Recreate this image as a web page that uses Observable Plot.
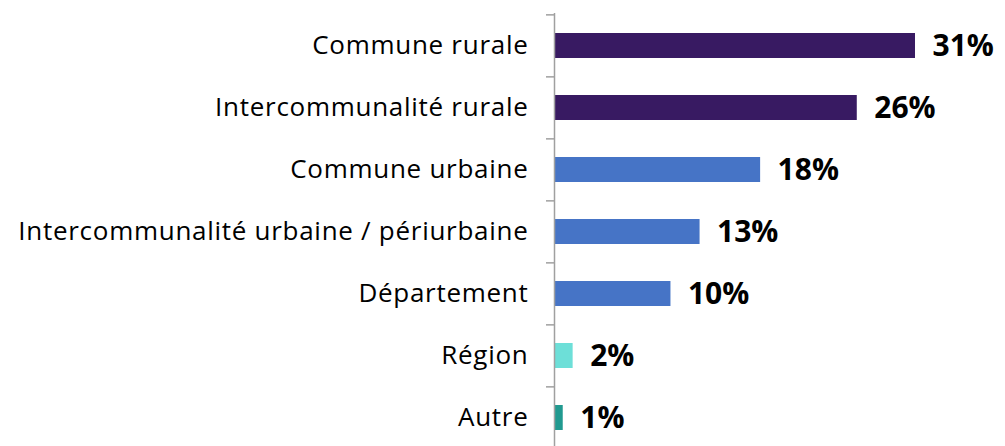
<!DOCTYPE html>
<html>
<head>
<meta charset="utf-8">
<script src="https://cdn.jsdelivr.net/npm/d3@7"></script>
<script src="https://cdn.jsdelivr.net/npm/@observablehq/plot@0.6"></script>
<style>
  html, body { margin: 0; padding: 0; background: #fff; }
  svg { display: block; }
  g[aria-label="y-axis tick label"] text { letter-spacing: 0.72px; }
</style>
</head>
<body>
<div id="chart"></div>
<script>
const categories = [
  "Commune rurale",
  "Intercommunalité rurale",
  "Commune urbaine",
  "Intercommunalité urbaine / périurbaine",
  "Département",
  "Région",
  "Autre"
];
const values = [31, 26, 17.7, 12.5, 10, 1.6, 0.75];
const valueLabels = ["31%", "26%", "18%", "13%", "10%", "2%", "1%"];
const groups = ["rural", "rural", "urbain", "urbain", "urbain", "region", "autre"];

const groupDomain = ["rural", "urbain", "region", "autre"];
const groupColors = ["#381a62", "#4674c6", "#6ddfd8", "#219a90"];

const data = categories.map((c, i) => ({category: c, value: values[i], label: valueLabels[i], group: groups[i]}));

const W = 1005, H = 446, ML = 554, MR = 90;
const xMax = 31;
const pxPerUnit = (W - ML - MR) / xMax;
const yRange = [13, 449];
const step = (yRange[1] - yRange[0]) / categories.length;

const chart = Plot.plot({
  width: W,
  height: H,
  marginLeft: ML,
  marginRight: MR,
  marginTop: 13,
  marginBottom: 0,
  style: {fontFamily: "'Open Sans', sans-serif", background: "#fff", color: "#000"},
  x: {domain: [0, xMax], axis: null},
  y: {domain: categories, range: yRange, paddingInner: 0.6, paddingOuter: 0.3, label: null},
  color: {domain: groupDomain, range: groupColors},
  marks: [
    Plot.barX(data, {x: "value", y: "category", fill: "group"}),
    Plot.ruleX([0], {stroke: "#a0a0a0", strokeWidth: 1.5}),
    Plot.ruleY(data, {y: "category", x1: -8 / pxPerUnit, x2: 0, dy: -step / 2, stroke: "#a0a0a0", strokeWidth: 1.5}),
    Plot.axisY({tickSize: 0, tickPadding: 26, fontSize: 26, label: null, fill: "#000"}),
    Plot.text(data, {x: "value", y: "category", text: "label", dx: 17, textAnchor: "start", fontSize: 30, fontWeight: "bold", fill: "#000"})
  ]
});
document.getElementById("chart").appendChild(chart);
</script>
</body>
</html>
